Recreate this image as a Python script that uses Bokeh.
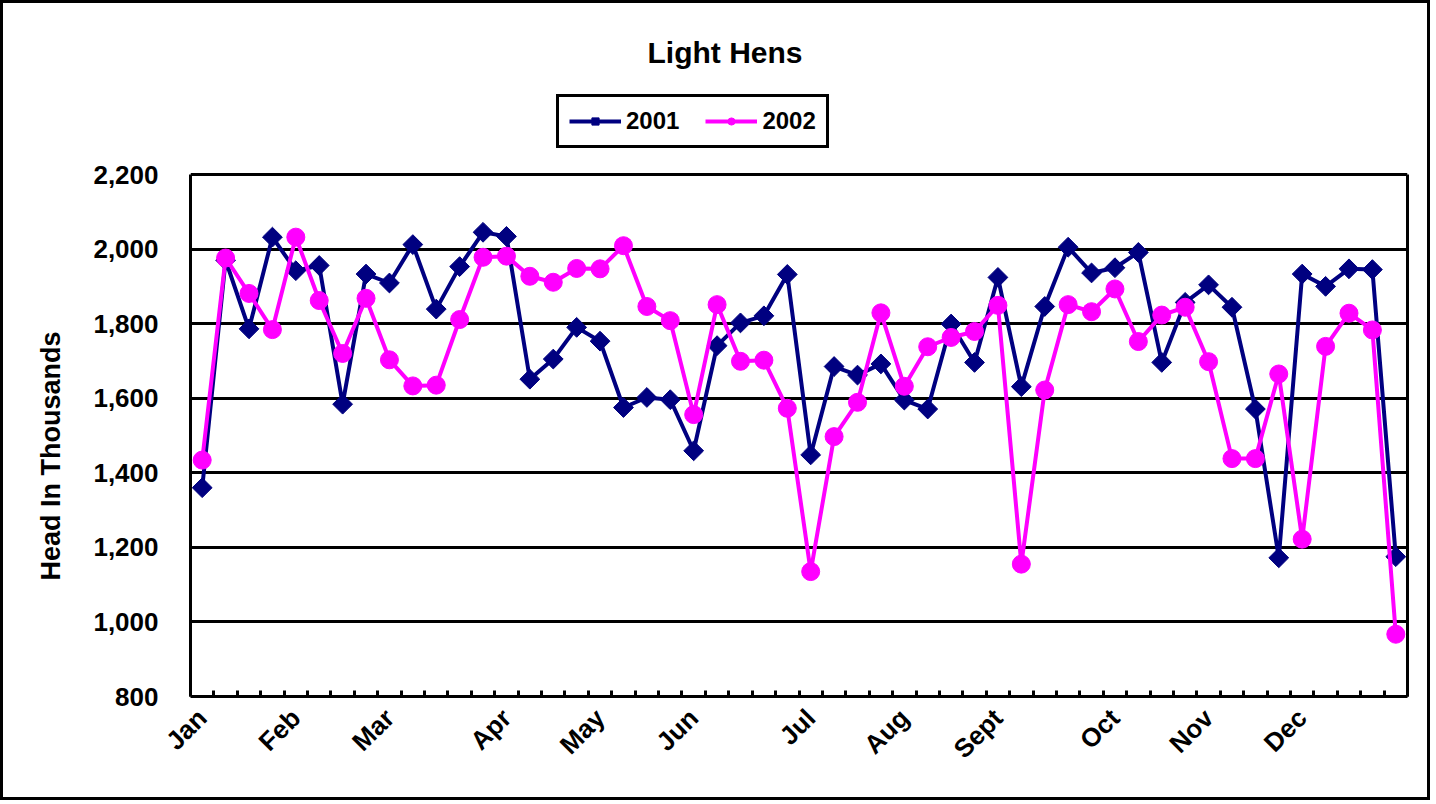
import math
from bokeh.plotting import figure
from bokeh.models import (Range1d, FixedTicker, NumeralTickFormatter, Legend, LegendItem,
                          LinearAxis, Title)
from bokeh.embed import file_html
from bokeh.resources import INLINE

weeks = list(range(52))
month_labels = ["Jan", "Feb", "Mar", "Apr", "May", "Jun", "Jul", "Aug", "Sept", "Oct", "Nov", "Dec"]
month_positions = [0, 4, 8, 13, 17, 21, 26, 30, 34, 39, 43, 47]

y2001 = [1360, 1970, 1786, 2032, 1942, 1956, 1584, 1933, 1909, 2012,
         1839, 1953, 2045, 2034, 1651, 1705, 1790, 1753, 1575, 1602,
         1596, 1459, 1741, 1802, 1821, 1932, 1448, 1685, 1662, 1692,
         1595, 1571, 1799, 1696, 1924, 1631, 1846, 2005, 1936, 1950,
         1991, 1696, 1857, 1904, 1844, 1571, 1172, 1933, 1900, 1947,
         1945, 1175]
y2002 = [1434, 1976, 1881, 1784, 2032, 1862, 1720, 1868, 1703, 1633,
         1635, 1811, 1978, 1981, 1927, 1911, 1948, 1947, 2009, 1846,
         1808, 1556, 1851, 1699, 1702, 1573, 1135, 1497, 1589, 1829,
         1632, 1738, 1763, 1779, 1849, 1155, 1622, 1851, 1832, 1893,
         1752, 1823, 1844, 1698, 1438, 1438, 1665, 1222, 1739, 1828,
         1783, 967]
y_ticks = [800, 1000, 1200, 1400, 1600, 1800, 2000, 2200]
Y_MIN, Y_MAX = 800, 2200

FONT = "Liberation Sans"
NAVY = "#000080"
MAGENTA = "#FF00FF"

# layout (pixels): the frame extends above the value area to host the legend
FRAME_TOP, AXIS_TOP, AXIS_BOTTOM = 80, 174, 696
y_top = Y_MAX + (AXIS_TOP - FRAME_TOP) * (Y_MAX - Y_MIN) / (AXIS_BOTTOM - AXIS_TOP)

p = figure(width=1430, height=800,
           min_border_left=187, min_border_right=26,
           min_border_top=FRAME_TOP - 3, min_border_bottom=107,
           x_range=Range1d(-0.5, 51.5), y_range=Range1d(Y_MIN, y_top),
           output_backend="svg", toolbar_location=None)
p.styles = {"border": "3px solid black"}

p.title = Title(text="Light Hens", align="left", offset=457, standoff=23,
                text_font=FONT, text_font_size="30px", text_font_style="bold",
                text_color="black")

p.outline_line_color = None

# x axis
xa = p.xaxis[0]
xa.ticker = FixedTicker(ticks=month_positions,
                        minor_ticks=[i + 0.5 for i in range(-1, 52)])
xa.major_label_overrides = {pos: lab for pos, lab in zip(month_positions, month_labels)}
xa.major_label_orientation = math.pi / 4
xa.major_tick_in = 0
xa.major_tick_out = 0
xa.minor_tick_in = 6
xa.minor_tick_out = 0
xa.minor_tick_line_width = 3
xa.minor_tick_line_color = "black"
xa.axis_line_width = 3
xa.axis_line_color = "black"
xa.major_label_text_font = FONT
xa.major_label_text_font_size = "26px"
xa.major_label_text_font_style = "bold"
xa.major_label_text_color = "black"
xa.major_label_standoff = 17

# y axis
ya = p.yaxis[0]
ya.bounds = (Y_MIN, Y_MAX)
ya.ticker = FixedTicker(ticks=y_ticks)
ya.formatter = NumeralTickFormatter(format="0,0")
ya.major_tick_in = 0
ya.major_tick_out = 0
ya.minor_tick_in = 0
ya.minor_tick_out = 0
ya.axis_line_width = 3
ya.axis_line_color = "black"
ya.major_label_text_font = FONT
ya.major_label_text_font_size = "26px"
ya.major_label_text_font_style = "bold"
ya.major_label_text_color = "black"
ya.major_label_standoff = 32

# y-axis title, centred on the value area (not on the extended frame)
ytitle = Title(text="Head In Thousands", align="left", offset=116, standoff=50,
               text_font=FONT, text_font_size="27px", text_font_style="bold",
               text_color="black")
p.add_layout(ytitle, "left")

# right border of the value area
ra = LinearAxis(bounds=(Y_MIN, Y_MAX), ticker=FixedTicker(ticks=[]),
                major_tick_in=0, major_tick_out=0, minor_tick_in=0, minor_tick_out=0,
                major_label_text_font_size="0px", axis_line_width=3, axis_line_color="black")
p.add_layout(ra, "right")

p.xgrid.grid_line_color = None
p.ygrid.ticker = FixedTicker(ticks=y_ticks)
p.ygrid.grid_line_color = "black"
p.ygrid.grid_line_width = 3
p.ygrid.grid_line_alpha = 1.0

l1 = p.line(weeks, y2001, line_color=NAVY, line_width=4)
s1 = p.scatter(weeks, y2001, marker="square", angle=math.pi / 4, size=14,
               fill_color=NAVY, line_color=NAVY)
l2 = p.line(weeks, y2002, line_color=MAGENTA, line_width=4)
s2 = p.scatter(weeks, y2002, marker="circle", size=18,
               fill_color=MAGENTA, line_color=MAGENTA)

legend = Legend(items=[LegendItem(label="2001", renderers=[l1, s1]),
                       LegendItem(label="2002", renderers=[l2, s2])],
                orientation="horizontal", location=(366, 548))
legend.label_text_font = FONT
legend.label_text_font_size = "24px"
legend.label_text_font_style = "bold"
legend.label_text_color = "black"
legend.glyph_width = 52
legend.glyph_height = 18
legend.label_standoff = 5
legend.spacing = 26
legend.padding = 10
legend.border_line_color = "black"
legend.border_line_width = 3
legend.border_line_alpha = 1.0
legend.background_fill_color = "white"
legend.margin = 0
p.add_layout(legend, "center")

open("out.html", "w").write(file_html(p, INLINE))
